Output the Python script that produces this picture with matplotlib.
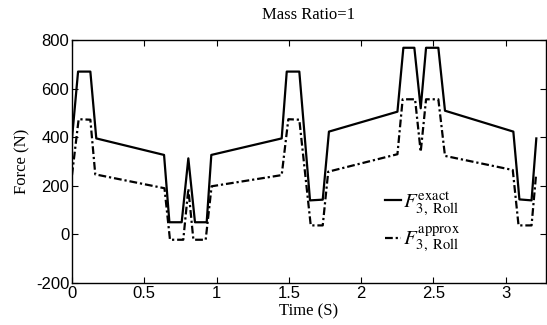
import matplotlib
matplotlib.use("Agg")
import matplotlib.pyplot as plt

# Data
t_exact = [0.0, 0.042, 0.127, 0.168, 0.637, 0.674, 0.759, 0.805, 0.851, 0.932, 0.964,
           1.451, 1.486, 1.573, 1.647, 1.735, 1.778, 2.252, 2.293, 2.369, 2.413, 2.450,
           2.535, 2.581, 3.054, 3.096, 3.180, 3.213]
f_exact = [395, 670, 670, 395, 327, 50, 50, 313, 50, 50, 327,
           395, 670, 670, 140, 143, 423, 505, 768, 768, 519, 768,
           768, 509, 423, 144, 140, 395]

t_approx = [0.0, 0.046, 0.127, 0.161, 0.640, 0.678, 0.770, 0.805, 0.840, 0.925, 0.966,
            1.451, 1.497, 1.573, 1.652, 1.735, 1.773, 2.252, 2.288, 2.374, 2.413, 2.450,
            2.535, 2.581, 3.050, 3.090, 3.180, 3.211]
f_approx = [244, 474, 472, 247, 190, -22, -22, 188, -22, -22, 198,
            244, 474, 472, 37, 37, 258, 330, 556, 556, 340, 556,
            556, 323, 265, 37, 37, 244]

x_ticks = [0, 0.5, 1, 1.5, 2, 2.5, 3]
x_ticklabels = ["0", "0.5", "1", "1.5", "2", "2.5", "3"]
y_ticks = [-200, 0, 200, 400, 600, 800]
y_ticklabels = ["-200", "0", "200", "400", "600", "800"]

plt.rcParams["mathtext.fontset"] = "stix"

fig = plt.figure(figsize=(5.47, 3.25), dpi=100)
ax = fig.add_axes([72 / 547, 1 - 283 / 325, 474 / 547, 243 / 325])

ax.plot(t_exact, f_exact, color="black", linewidth=1.6, linestyle="-",
        label=r"$F^{\mathrm{exact}}_{3,\ \mathrm{Roll}}$")
ax.plot(t_approx, f_approx, color="black", linewidth=1.6,
        linestyle=(0, (3.5, 1.3, 1.0, 1.3)),
        label=r"$F^{\mathrm{approx}}_{3,\ \mathrm{Roll}}$")

ax.set_xlim(0, 3.28)
ax.set_ylim(-200, 800)
ax.set_xticks(x_ticks)
ax.set_xticklabels(x_ticklabels)
ax.set_yticks(y_ticks)
ax.set_yticklabels(y_ticklabels)

ax.tick_params(direction="in", top=True, right=True, length=4, width=0.8,
               labelsize=12, pad=2)
for lab in ax.get_xticklabels() + ax.get_yticklabels():
    lab.set_fontfamily("Liberation Sans")
for sp in ax.spines.values():
    sp.set_linewidth(1.0)

ax.set_xlabel("Time (S)", fontsize=12, family="Liberation Serif", labelpad=2)
ax.set_ylabel("Force (N)", fontsize=12, family="Liberation Serif", labelpad=4)
ax.set_title("Mass Ratio=1", fontsize=12, family="Liberation Serif", pad=15)

leg = ax.legend(loc="upper left", bbox_to_anchor=(0.63, 0.445), frameon=False,
                fontsize=15, handlelength=0.75, handletextpad=0.1,
                labelspacing=0.4, borderpad=0.2)

fig.savefig("out.png", dpi=100)
